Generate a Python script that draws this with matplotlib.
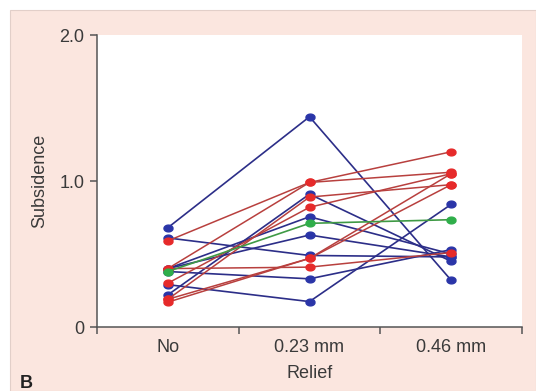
import numpy as np
import matplotlib
matplotlib.use("Agg")
import matplotlib.pyplot as plt
from matplotlib.path import Path
from matplotlib.patches import Rectangle

# Data: subsidence per subject at each relief level
categories = ["No", "0.23 mm", "0.46 mm"]
blue_series = [
    [0.68, 1.44, 0.32],
    [0.61, 0.49, 0.48],
    [0.22, 0.91, 0.45],
    [0.40, 0.755, 0.50],
    [0.40, 0.63, 0.48],
    [0.38, 0.33, 0.53],
    [0.29, 0.174, 0.84],
]
red_series = [
    [0.59, 0.99, 1.20],
    [0.40, 0.99, 1.06],
    [0.19, 0.89, 0.975],
    [0.30, 0.82, 1.05],
    [0.17, 0.47, 1.05],
    [0.19, 0.47, 0.975],
    [0.40, 0.41, 0.51],
]
green_series = [
    [0.38, 0.71, 0.735],
]
y_ticks = [0, 1.0, 2.0]
y_ticklabels = ["0", "1.0", "2.0"]

plt.rcParams['font.family'] = ['Liberation Sans', 'DejaVu Sans']

fig = plt.figure(figsize=(5.36, 3.91), dpi=100)
fig.patch.set_facecolor("white")
W, H = 536, 391
# pink panel background
fig.patches.append(Rectangle((10 / W, 0), 1 - 10 / W, 1 - 10 / H,
                             transform=fig.transFigure, facecolor="#fbe6df",
                             edgecolor="#e2cfc9", linewidth=0.8, zorder=-10))

ax = fig.add_axes([97 / W, 1 - 327 / H, (522 - 97) / W, (327 - 35) / H])
ax.set_zorder(1)
ax.set_facecolor("white")

# ellipse marker
t = np.linspace(0, 2 * np.pi, 40)
ell = Path(np.column_stack([np.cos(t), 0.75 * np.sin(t)]))

xpos = np.arange(len(categories)) + 0.5

for s in blue_series:
    ax.plot(xpos, s, color="#2c2e88", lw=1.2, marker=ell, ms=6.5,
            mfc="#2a35a8", mec="#2a35a8", zorder=2)
for s in red_series:
    ax.plot(xpos, s, color="#b8403e", lw=1.1, marker=ell, ms=6.5,
            mfc="#e62a2a", mec="#e62a2a", zorder=3)
for s in green_series:
    ax.plot(xpos, s, color="#3f9a45", lw=1.2, marker=ell, ms=6.5,
            mfc="#2fae4a", mec="#2fae4a", zorder=4)

ax.set_xlim(0, 3)
ax.set_ylim(0, 2.0)

for sp in ["top", "right"]:
    ax.spines[sp].set_visible(False)
for sp in ["left", "bottom"]:
    ax.spines[sp].set_color("#555555")
    ax.spines[sp].set_linewidth(1.1)

ax.set_yticks(y_ticks)
ax.set_yticklabels(y_ticklabels)
ax.set_xticks([0, 1, 2, 3])
ax.set_xticklabels([])
ax.set_xticks(xpos, minor=True)
ax.set_xticklabels(categories, minor=True)
ax.tick_params(axis="x", which="major", direction="out", length=5, width=1.1, color="#555555")
ax.tick_params(axis="x", which="minor", length=0, pad=9, labelsize=13, labelcolor="#3a3a3a")
ax.tick_params(axis="y", direction="out", length=5, width=1.1, color="#555555",
               pad=4, labelsize=13, labelcolor="#3a3a3a")

ax.set_ylabel("Subsidence", fontsize=13, color="#3a3a3a", labelpad=8)
ax.set_xlabel("Relief", fontsize=13, color="#3a3a3a", labelpad=6)

fig.text(20 / W, 1 - 384 / H, "B", fontsize=13, fontweight="bold", color="#222222",
         ha="left", va="center")

fig.savefig("out.png", dpi=100, facecolor=fig.get_facecolor())
